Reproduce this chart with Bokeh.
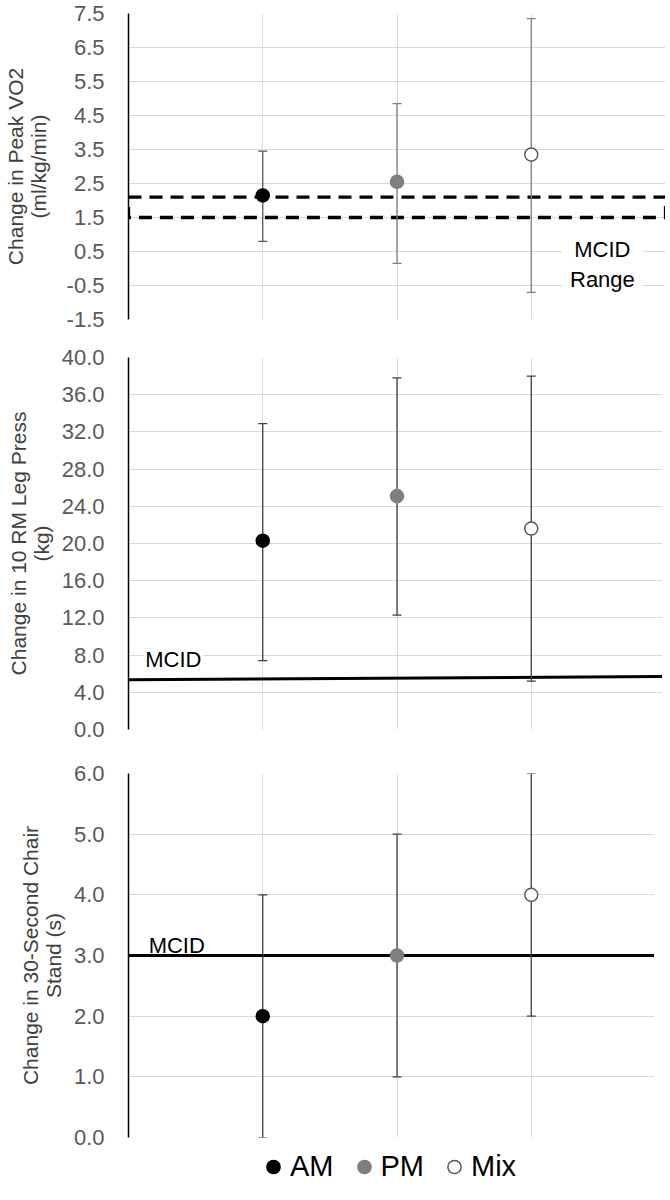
from bokeh.plotting import figure
from bokeh.models import (Range1d, FixedTicker, Grid, Label, Legend, LegendItem,
                          ColumnDataSource, NumeralTickFormatter)
from bokeh.layouts import column
from bokeh.embed import file_html
from bokeh.resources import INLINE

# ---------------- data ----------------
groups = ["AM", "PM", "Mix"]
group_x = [1, 2, 3]
x_limits = [0, 4]

vo2_mean = [2.15, 2.55, 3.35]
vo2_low = [0.8, 0.15, -0.7]
vo2_high = [3.45, 4.85, 7.35]
vo2_mcid_low = 1.5
vo2_mcid_high = 2.1
vo2_ticks = [-1.5, -0.5, 0.5, 1.5, 2.5, 3.5, 4.5, 5.5, 6.5, 7.5]

leg_mean = [20.3, 25.1, 21.6]
leg_low = [7.4, 12.3, 5.2]
leg_high = [32.9, 37.8, 38.0]
leg_mcid_x = [0, 4]
leg_mcid_y = [5.35, 5.7]
leg_ticks = [0, 4, 8, 12, 16, 20, 24, 28, 32, 36, 40]

chair_mean = [2.0, 3.0, 4.0]
chair_low = [0.0, 1.0, 2.0]
chair_high = [4.0, 5.0, 6.0]
chair_mcid_x = [0, 3.95]
chair_mcid_y = [3.0, 3.0]
chair_ticks = [0, 1, 2, 3, 4, 5, 6]

# ---------------- styles ----------------
FONT = "Liberation Sans"
GRID = "#d9d9d9"
marker_fill = ["#000000", "#7f7f7f", "#ffffff"]
marker_line = ["#000000", "#7f7f7f", "#595959"]


def make_panel(ticks, label, top, fh, bottom, label_standoff):
    p = figure(frame_width=537, frame_height=fh,
               min_border_left=117, min_border_right=0,
               min_border_top=top, min_border_bottom=bottom,
               x_range=Range1d(*x_limits), y_range=Range1d(ticks[0], ticks[-1]),
               x_axis_location=None, toolbar_location=None,
               output_backend="svg")
    p.outline_line_color = None
    p.background_fill_color = "white"
    p.border_fill_color = "white"
    p.xgrid.visible = False
    p.add_layout(Grid(dimension=0, ticker=FixedTicker(ticks=[1, 2, 3, 4]),
                      grid_line_color=GRID, grid_line_width=1), "center")
    ax = p.yaxis[0]
    ax.ticker = FixedTicker(ticks=ticks)
    ax.formatter = NumeralTickFormatter(format="0.0")
    ax.major_tick_line_color = None
    ax.minor_tick_line_color = None
    ax.axis_line_color = "#000000"
    ax.axis_line_width = 1.5
    ax.major_label_text_font = FONT
    ax.major_label_text_font_size = "22px"
    ax.major_label_text_color = "#595959"
    ax.major_label_standoff = 18
    ax.axis_label = label
    ax.axis_label_text_font = FONT
    ax.axis_label_text_font_size = "21px"
    ax.axis_label_text_font_style = "normal"
    ax.axis_label_text_color = "#404040"
    ax.axis_label_text_line_height = 1.0
    ax.axis_label_standoff = label_standoff
    p.ygrid.ticker = FixedTicker(ticks=ticks)
    p.ygrid.grid_line_color = GRID
    p.ygrid.grid_line_width = 1
    return p


def make_source(mean, low, high, bar_colors):
    return ColumnDataSource(dict(x=group_x, mean=mean, low=low, high=high,
                                 fill=marker_fill, line=marker_line, bar=bar_colors,
                                 name=groups))


def add_points(p, src):
    p.segment(x0="x", y0="low", x1="x", y1="high", line_color="bar",
              line_width=1.3, source=src)
    p.scatter(x="x", y="high", marker="dash", size=9, line_color="bar",
              line_width=1.2, source=src)
    p.scatter(x="x", y="low", marker="dash", size=9, line_color="bar",
              line_width=1.2, source=src)
    r = p.scatter(x="x", y="mean", size=13, fill_color="fill", line_color="line",
                  line_width=1.5, source=src)
    return r


# ---------------- panel 1 ----------------
p1 = make_panel(vo2_ticks, "Change in Peak VO2\n(ml/kg/min)", 13, 306, 18, 14)
p1.quad(left=[x_limits[0]], right=[x_limits[1]], bottom=[vo2_mcid_low], top=[vo2_mcid_high],
        fill_color=None, line_color="#000000", line_width=3.3, line_dash="13 8")
add_points(p1, make_source(vo2_mean, vo2_low, vo2_high, ["#595959", "#7f7f7f", "#7f7f7f"]))
p1.add_layout(Label(x=3.53, y=0.12, text="MCID\nRange", text_align="center",
                    text_baseline="middle", text_font=FONT, text_font_size="22px",
                    text_color="#000000", text_line_height=1.2,
                    background_fill_color="white", padding=8))

# ---------------- panel 2 ----------------
p2 = make_panel(leg_ticks, "Change in 10 RM Leg Press\n(kg)", 20, 372, 22, 6)
p2.line(x=leg_mcid_x, y=leg_mcid_y, line_color="#000000", line_width=3)
add_points(p2, make_source(leg_mean, leg_low, leg_high, ["#404040"] * 3))
p2.add_layout(Label(x=0.11, y=7.5, text="MCID", text_align="left",
                    text_baseline="middle", text_font=FONT, text_font_size="22px",
                    text_color="#000000", background_fill_color="white", padding=2))

# ---------------- panel 3 ----------------
p3 = make_panel(chair_ticks, "Change in 30-Second Chair\nStand (s)", 22, 364, 13, 6)
p3.line(x=chair_mcid_x, y=chair_mcid_y, line_color="#000000", line_width=3)
chair_src = make_source(chair_mean, chair_low, chair_high, ["#404040"] * 3)
add_points(p3, chair_src)
p3.add_layout(Label(x=0.15, y=3.16, text="MCID", text_align="left",
                    text_baseline="middle", text_font=FONT, text_font_size="22px",
                    text_color="#000000"))

# ---------------- legend strip ----------------
pl = figure(width=654, height=33, min_border=0, x_range=Range1d(100, 101),
            y_range=Range1d(100, 101), x_axis_location=None, y_axis_location=None,
            toolbar_location=None, output_backend="svg")
pl.outline_line_color = None
pl.xgrid.visible = False
pl.ygrid.visible = False
leg_pts = pl.scatter(x="x", y="mean", size=13, fill_color="fill", line_color="line",
                     line_width=1.5, source=chair_src)
legend = Legend(items=[LegendItem(label=g, renderers=[leg_pts], index=i)
                       for i, g in enumerate(groups)],
                orientation="horizontal", location=(128, 0),
                label_text_font=FONT, label_text_font_size="29px",
                label_text_color="#000000", glyph_height=33, glyph_width=34,
                label_standoff=0, spacing=13, padding=0, margin=0,
                border_line_color=None, background_fill_alpha=0)
pl.add_layout(legend, "center")

layout = column(p1, p2, p3, pl, spacing=0)

open("out.html", "w").write(file_html(layout, INLINE))
